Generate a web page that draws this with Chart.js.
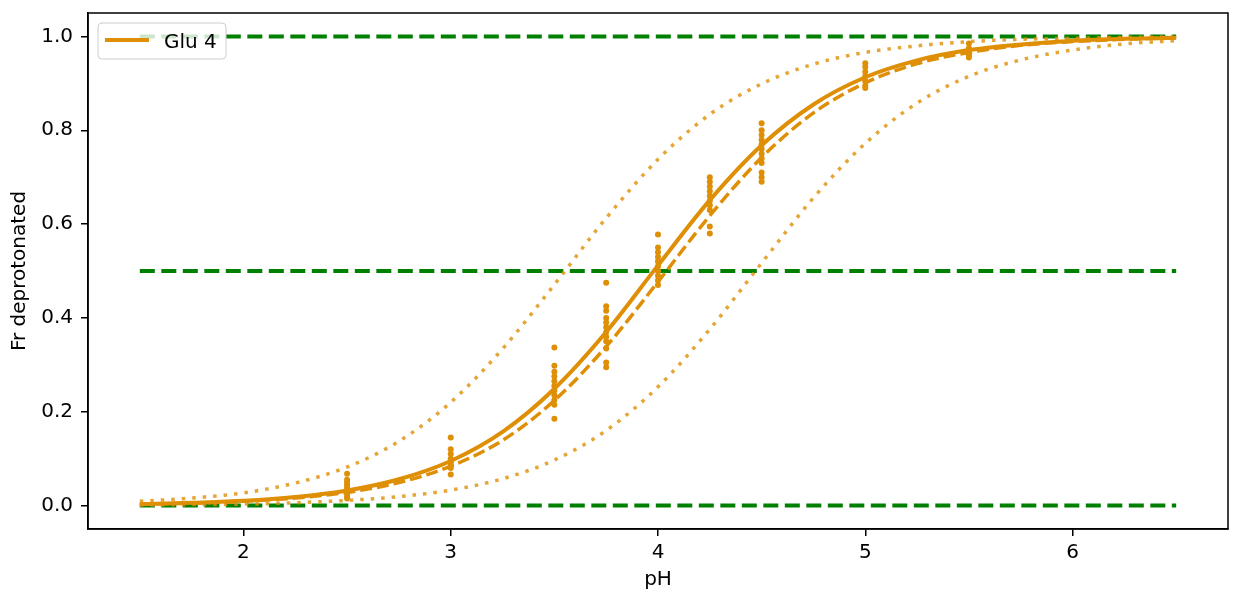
<!DOCTYPE html>
<html>
<head>
<meta charset="utf-8">
<title>Glu 4 titration</title>
<script src="https://cdn.jsdelivr.net/npm/chart.js@4.4.1/dist/chart.umd.min.js"></script>
<style>
  html, body { margin: 0; padding: 0; background: #fff; }
  #wrap { width: 1236px; height: 598px; }
</style>
</head>
<body>
<div id="wrap"><canvas id="titrationChart" width="1236" height="598"></canvas></div>
<script>
// Values
const seriesLabel = 'Glu 4';

// pH grid the fitted curves were read at
const phGrid = [1.5, 1.75, 2, 2.25, 2.5, 2.75, 3, 3.25, 3.5, 3.75, 4, 4.25, 4.5, 4.75, 5, 5.25, 5.5, 5.75, 6, 6.25, 6.5];
const fitSolid  = [0.003, 0.006, 0.010, 0.018, 0.032, 0.056, 0.095, 0.157, 0.249, 0.370, 0.512, 0.651, 0.768, 0.855, 0.913, 0.949, 0.971, 0.983, 0.991, 0.995, 0.997];
const fitDashed = [0.003, 0.005, 0.009, 0.016, 0.028, 0.049, 0.084, 0.139, 0.224, 0.339, 0.477, 0.618, 0.742, 0.837, 0.901, 0.942, 0.966, 0.981, 0.989, 0.994, 0.997];
const boundLow  = [0.009, 0.016, 0.027, 0.048, 0.082, 0.137, 0.220, 0.334, 0.471, 0.613, 0.738, 0.834, 0.899, 0.941, 0.966, 0.980, 0.989, 0.994, 0.996, 0.998, 0.999];
const boundHigh = [0.001, 0.002, 0.003, 0.006, 0.011, 0.019, 0.033, 0.057, 0.097, 0.160, 0.253, 0.376, 0.517, 0.656, 0.772, 0.858, 0.915, 0.950, 0.971, 0.984, 0.991];

// measured points, one list per pH
const phLevels = [2.5, 3, 3.5, 3.75, 4, 4.25, 4.5, 5, 5.5];
const observed = [
  [0.068, 0.055, 0.050, 0.045, 0.040, 0.035, 0.030, 0.025, 0.020, 0.015],
  [0.145, 0.120, 0.110, 0.100, 0.095, 0.090, 0.085, 0.080, 0.066],
  [0.337, 0.298, 0.285, 0.275, 0.265, 0.255, 0.245, 0.235, 0.225, 0.215, 0.185],
  [0.475, 0.425, 0.415, 0.400, 0.390, 0.380, 0.370, 0.360, 0.350, 0.335, 0.305, 0.295],
  [0.578, 0.550, 0.540, 0.530, 0.520, 0.510, 0.500, 0.490, 0.480, 0.470],
  [0.700, 0.690, 0.680, 0.670, 0.660, 0.650, 0.640, 0.630, 0.595, 0.580],
  [0.815, 0.800, 0.790, 0.780, 0.770, 0.760, 0.750, 0.740, 0.730, 0.710, 0.700, 0.690],
  [0.943, 0.935, 0.925, 0.915, 0.905, 0.895, 0.890],
  [0.985, 0.975, 0.970, 0.965, 0.960, 0.955]
];

// horizontal reference lines
const refLevels = [0, 0.5, 1];
const refRange = [1.5, 6.5];

const xTicks = [2, 3, 4, 5, 6];
const yTicks = [0, 0.2, 0.4, 0.6, 0.8, 1.0];

const orange = '#de8f05';
const orangeLight = 'rgba(222, 143, 5, 0.8)';
const green = '#008000';
const fontFamily = "'DejaVu Sans', sans-serif";
const fontSize = 20;

function curve(values) {
    return phGrid.map((ph, i) => ({ x: ph, y: values[i] }));
}

const points = [];
phLevels.forEach((ph, i) => {
    observed[i].forEach(v => points.push({ x: ph, y: v }));
});

// Legend box drawn inside the plot, like matplotlib's
const legendBox = {
    id: 'legendBox',
    afterDatasetsDraw(chart) {
        const ctx = chart.ctx;
        const a = chart.chartArea;
        const x = a.left + 10, y = a.top + 10, w = 128, h = 36;
        ctx.save();
        ctx.beginPath();
        ctx.roundRect(x, y, w, h, 4);
        ctx.fillStyle = 'rgba(255, 255, 255, 0.8)';
        ctx.fill();
        ctx.strokeStyle = '#cccccc';
        ctx.lineWidth = 1;
        ctx.stroke();

        ctx.beginPath();
        ctx.moveTo(x + 7, y + 17);
        ctx.lineTo(x + 51, y + 17);
        ctx.strokeStyle = orange;
        ctx.lineWidth = 4;
        ctx.stroke();

        ctx.fillStyle = '#000';
        ctx.font = fontSize + 'px ' + fontFamily;
        ctx.textBaseline = 'alphabetic';
        ctx.fillText(seriesLabel, x + 66, y + 24.5);
        ctx.restore();
    }
};

// Full frame round the plot area
const frame = {
    id: 'frame',
    afterDraw(chart) {
        const ctx = chart.ctx;
        const a = chart.chartArea;
        ctx.save();
        ctx.strokeStyle = '#000';
        ctx.lineWidth = 1.5;
        ctx.strokeRect(a.left, a.top, a.right - a.left, a.bottom - a.top);
        ctx.restore();
    }
};

const lineBase = { showLine: true, pointRadius: 0, fill: false, cubicInterpolationMode: 'monotone' };

const ctx = document.getElementById('titrationChart').getContext('2d');
const chart = new Chart(ctx, {
    type: 'scatter',
    data: {
        datasets: [
            { label: 'points', data: points, pointRadius: 3, pointBackgroundColor: orange, pointBorderWidth: 0, showLine: false },
            Object.assign({ label: seriesLabel, data: curve(fitSolid), borderColor: orange, borderWidth: 4 }, lineBase),
            Object.assign({ label: 'fit dashed', data: curve(fitDashed), borderColor: orange, borderWidth: 3.5, borderDash: [12, 5] }, lineBase),
            Object.assign({ label: 'low', data: curve(boundLow), borderColor: orangeLight, borderWidth: 3.5, borderDash: [3.5, 7] }, lineBase),
            Object.assign({ label: 'high', data: curve(boundHigh), borderColor: orangeLight, borderWidth: 3.5, borderDash: [3.5, 7] }, lineBase),
            ...refLevels.map(level => Object.assign({
                label: 'ref ' + level,
                data: refRange.map(ph => ({ x: ph, y: level })),
                borderColor: green, borderWidth: 4, borderDash: [15, 6.5]
            }, lineBase))
        ]
    },
    options: {
        responsive: false,
        animation: false,
        events: [],
        layout: { padding: { top: 13, right: 8, left: 0, bottom: 0 } },
        plugins: {
            legend: { display: false },
            tooltip: { enabled: false }
        },
        scales: {
            x: {
                type: 'linear',
                min: 1.25,
                max: 6.75,
                afterBuildTicks: s => { s.ticks = xTicks.map(v => ({ value: v })); },
                afterFit: s => { s.height = 69; s.paddingLeft = 0; s.paddingRight = 0; },
                ticks: {
                    color: '#000',
                    font: { family: fontFamily, size: fontSize },
                    padding: 5,
                    maxRotation: 0,
                    autoSkip: false,
                    callback: v => String(v)
                },
                grid: { display: true, drawOnChartArea: false, drawTicks: true, tickLength: 7, color: '#000', lineWidth: 1.5 },
                border: { display: true, color: '#000', width: 1.5 },
                title: {
                    display: true,
                    text: 'pH',
                    color: '#000',
                    font: { family: fontFamily, size: fontSize },
                    padding: { top: 0, bottom: 6 }
                }
            },
            y: {
                type: 'linear',
                min: -0.05,
                max: 1.05,
                afterBuildTicks: s => { s.ticks = yTicks.map(v => ({ value: v })); },
                afterFit: s => { s.width = 88; s.paddingTop = 0; s.paddingBottom = 0; },
                ticks: {
                    color: '#000',
                    font: { family: fontFamily, size: fontSize },
                    padding: 8,
                    callback: v => v.toFixed(1)
                },
                grid: { display: true, drawOnChartArea: false, drawTicks: true, tickLength: 7, color: '#000', lineWidth: 1.5 },
                border: { display: true, color: '#000', width: 1.5 },
                title: {
                    display: true,
                    text: 'Fr deprotonated',
                    color: '#000',
                    font: { family: fontFamily, size: fontSize },
                    padding: { top: 8, bottom: 0 }
                }
            }
        }
    },
    plugins: [legendBox, frame]
});
</script>
</body>
</html>
